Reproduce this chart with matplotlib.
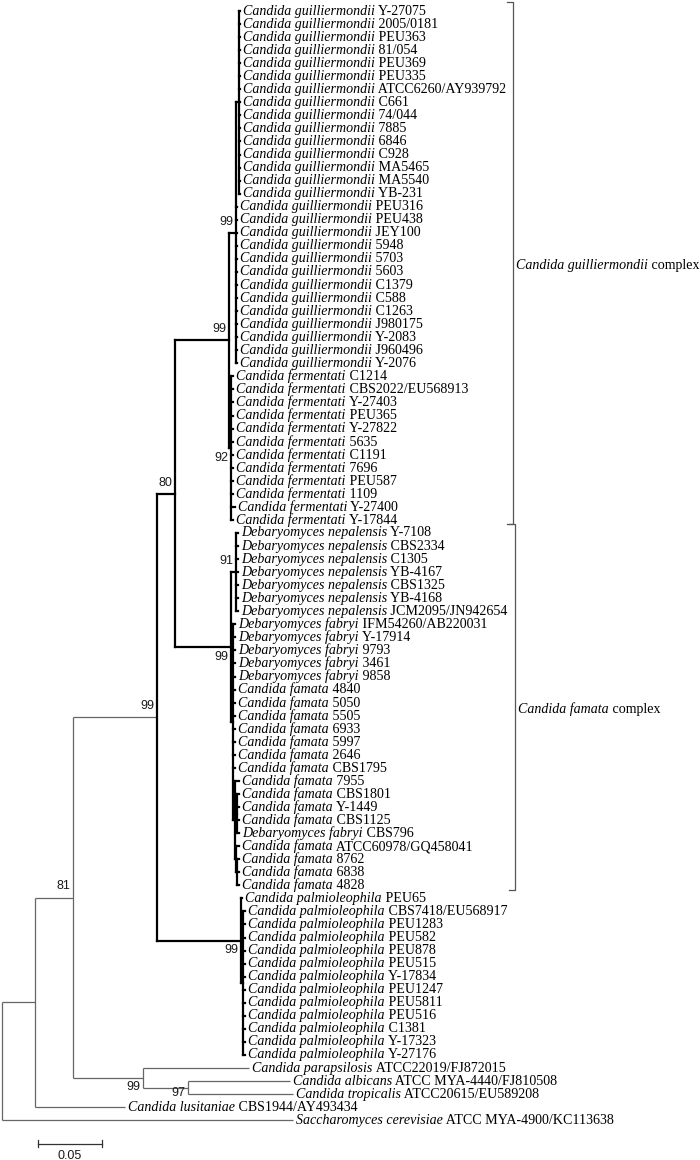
import matplotlib
matplotlib.use('Agg')
import matplotlib.pyplot as plt

# --- leaves, top to bottom (species in italics + strain) ---
guill = ['Y-27075', '2005/0181', 'PEU363', '81/054', 'PEU369', 'PEU335', 'ATCC6260/AY939792',
         'C661', '74/044', '7885', '6846', 'C928', 'MA5465', 'MA5540', 'YB-231',
         'PEU316', 'PEU438', 'JEY100', '5948', '5703', '5603', 'C1379', 'C588', 'C1263',
         'J980175', 'Y-2083', 'J960496', 'Y-2076']
ferm = ['C1214', 'CBS2022/EU568913', 'Y-27403', 'PEU365', 'Y-27822', '5635', 'C1191',
        '7696', 'PEU587', '1109', 'Y-27400', 'Y-17844']
nepal = ['Y-7108', 'CBS2334', 'C1305', 'YB-4167', 'CBS1325', 'YB-4168', 'JCM2095/JN942654']
fabryi = ['IFM54260/AB220031', 'Y-17914', '9793', '3461', '9858']
famata1 = ['4840', '5050', '5505', '6933', '5997', '2646', 'CBS1795', '7955', 'CBS1801',
           'Y-1449', 'CBS1125']
famata2 = ['ATCC60978/GQ458041', '8762', '6838', '4828']
palm = ['PEU65', 'CBS7418/EU568917', 'PEU1283', 'PEU582', 'PEU878', 'PEU515', 'Y-17834',
        'PEU1247', 'PEU5811', 'PEU516', 'C1381', 'Y-17323', 'Y-27176']
outgroup_species = ['Candida parapsilosis', 'Candida albicans', 'Candida tropicalis',
                    'Candida lusitaniae', 'Saccharomyces cerevisiae']
outgroup_strain = ['ATCC22019/FJ872015', 'ATCC MYA-4440/FJ810508', 'ATCC20615/EU589208',
                   'CBS1944/AY493434', 'ATCC MYA-4900/KC113638']

leaf_species = (['Candida guilliermondii'] * len(guill) + ['Candida fermentati'] * len(ferm)
                + ['Debaryomyces nepalensis'] * len(nepal) + ['Debaryomyces fabryi'] * len(fabryi)
                + ['Candida famata'] * len(famata1) + ['Debaryomyces fabryi']
                + ['Candida famata'] * len(famata2) + ['Candida palmioleophila'] * len(palm)
                + outgroup_species)
leaf_strain = guill + ferm + nepal + fabryi + famata1 + ['CBS796'] + famata2 + palm + outgroup_strain

# parent node of each leaf and depth of its tip (substitutions/site)
leaf_parent = (['L'] * 15 + ['K'] * 13 + ['M'] * 12 + ['N'] * 7 + ['O'] * 12 + ['P']
               + ['Q'] * 4 + ['R'] + ['S'] * 3 + ['G'] + ['H'] * 12
               + ['D', 'E', 'E', 'A', 'root'])
leaf_tip = ([0.1859] * 15 + [0.1836] * 13 + [0.1805] * 10 + [0.1820, 0.1805] + [0.1844] * 7
            + [0.1820] * 12 + [0.1852] * 9 + [0.1875] + [0.1898] * 12
            + [0.1930, 0.2250, 0.2273, 0.0961, 0.2273])

# internal nodes
node_name = ['root', 'A', 'B', 'C', 'D', 'E', 'F', 'G', 'H', 'I', 'J', 'K', 'L', 'M', 'N',
             'O', 'P', 'Q', 'R', 'S']
node_parent = [None, 'root', 'A', 'B', 'B', 'D', 'C', 'C', 'G', 'F', 'F', 'I', 'K', 'I', 'J',
               'J', 'O', 'P', 'P', 'R']
node_depth = [0.0, 0.0258, 0.0555, 0.1211, 0.1102, 0.1453, 0.1352, 0.1867, 0.1883, 0.1773,
              0.1789, 0.1828, 0.1852, 0.1789, 0.1828, 0.1805, 0.1820, 0.1836, 0.1828, 0.1836]
node_support = [None, None, 81, 99, 99, 97, 80, 99, None, 99, 99, 99, None, 92, 91,
                None, None, None, None, None]

# bracketed groups
group_species = ['Candida guilliermondii', 'Candida famata']
group_first = [0, 40]
group_last = [39, 67]
scale_len = 0.05

# ---------------------------------------------------------------
plt.rcParams['font.family'] = ['Liberation Serif', 'DejaVu Serif']
sans = ['Liberation Sans', 'DejaVu Sans']
fs_leaf = 10.1
fs_num = 9.0

depth = dict(zip(node_name, node_depth))
parent = dict(zip(node_name, node_parent))
support = dict(zip(node_name, node_support))

children = {n: [] for n in node_name}
for i, p in enumerate(leaf_parent):
    children[p].append(('leaf', i))
for n, p in zip(node_name, node_parent):
    if p is not None:
        children[p].append(('node', n))

node_y = {}


def get_y(kind, key):
    if kind == 'leaf':
        return key
    if key not in node_y:
        ys = [get_y(k, c) for k, c in children[key]]
        node_y[key] = (min(ys) + max(ys)) / 2
    return node_y[key]


get_y('node', 'root')

# clade drawn in bold
bold = set()
for n in node_name:
    m = n
    while m is not None:
        if m == 'C':
            bold.add(n)
            break
        m = parent[m]

fig = plt.figure(figsize=(7, 11.6), dpi=100)
ax = fig.add_axes([0, 0, 1, 1])
ax.set_xlim(-0.0016, 0.5453)
ax.set_ylim(88.05, -0.843)
ax.axis('off')

thin = dict(color='#666666', lw=0.9, solid_capstyle='butt')
thick = dict(color='black', lw=1.6, solid_capstyle='projecting')

for n in node_name:
    st = thick if n in bold else thin
    ys = [get_y(k, c) for k, c in children[n]]
    ax.plot([depth[n], depth[n]], [min(ys), max(ys)], **st)
    for k, c in children[n]:
        x1 = leaf_tip[c] if k == 'leaf' else depth[c]
        ax.plot([depth[n], x1], [get_y(k, c)] * 2, **st)

# support values (some sit below their branch)
below = {'D': 0.72, 'E': 0.45, 'G': 0.72, 'J': 0.72, 'M': 0.72}
for n in node_name:
    if support[n] is None:
        continue
    dy = below.get(n, -0.85)
    ax.text(depth[n] - 0.0019, node_y[n] + dy, str(support[n]), ha='right', va='center',
            fontsize=fs_num, family=sans, color='#1a1a1a')

# leaf labels
for i in range(len(leaf_species)):
    t = ax.annotate(leaf_species[i], xy=(leaf_tip[i], i), xytext=(2.2, 0),
                    textcoords='offset points', ha='left', va='center',
                    fontsize=fs_leaf, style='italic', color='black')
    ax.annotate(' ' + leaf_strain[i], xy=(1, 0), xycoords=t, ha='left', va='bottom',
                fontsize=fs_leaf, color='black')

# brackets
for sp, f, l, bx in zip(group_species, group_first, group_last, [0.3992, 0.4008]):
    y0, y1 = f - 0.7, l + 0.35
    ax.plot([bx - 0.005, bx, bx, bx - 0.005], [y0, y0, y1, y1], color='#555555', lw=0.9)
    t = ax.text(bx + 0.0025, (f + l) / 2, sp, ha='left', va='center', fontsize=fs_leaf,
                style='italic', color='black')
    ax.annotate(' complex', xy=(1, 0), xycoords=t, ha='left', va='bottom',
                fontsize=fs_leaf, color='black')

# scale bar
sx = 0.028
ax.plot([sx, sx + scale_len], [86.8, 86.8], color='#333333', lw=0.9)
for x in (sx, sx + scale_len):
    ax.plot([x, x], [86.55, 87.05], color='#333333', lw=0.9)
ax.text(sx + scale_len / 2, 87.75, '0.05', ha='center', va='center', fontsize=fs_num,
        family=sans, color='#1a1a1a')

fig.savefig('out.png', dpi=100)
